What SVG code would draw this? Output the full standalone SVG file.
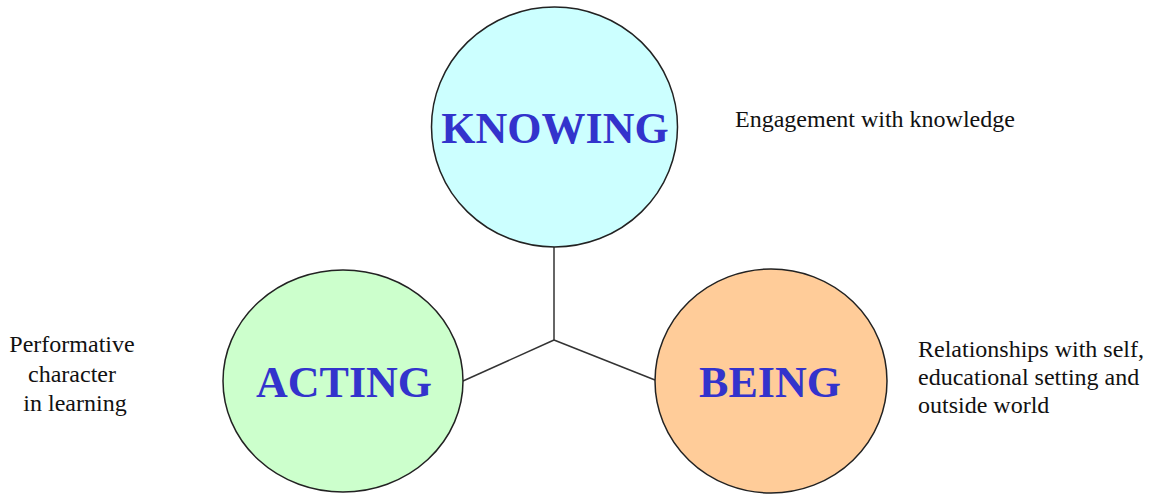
<svg xmlns="http://www.w3.org/2000/svg" width="1155" height="494" viewBox="0 0 1155 494">
<style>
.node{stroke:#222;stroke-width:1.5}
.title{font-family:"Liberation Serif",serif;font-weight:bold;font-size:44px;fill:#3333cc;text-anchor:middle}
.desc{font-family:"Liberation Serif",serif;font-size:24px;fill:#111}
.conn{stroke:#333;stroke-width:1.5;fill:none}
</style>
<rect width="1155" height="494" fill="#ffffff"/>
<g id="connectors">
<line class="conn" x1="554" y1="247" x2="554" y2="340"/>
<line class="conn" x1="554" y1="340" x2="463" y2="381"/>
<line class="conn" x1="554" y1="340" x2="655" y2="380"/>
</g>
<g id="knowing">
<ellipse class="node" cx="554.5" cy="127" rx="123" ry="120" fill="#ccffff"/>
<text class="title" x="555" y="143">KNOWING</text>
</g>
<g id="acting">
<ellipse class="node" cx="343" cy="381" rx="120" ry="111" fill="#ccffcc"/>
<text class="title" x="344" y="397">ACTING</text>
</g>
<g id="being">
<ellipse class="node" cx="771" cy="381" rx="116" ry="112" fill="#ffcc99"/>
<text class="title" x="770" y="397">BEING</text>
</g>
<g id="knowing-desc">
<text class="desc" x="735" y="127">Engagement with knowledge</text>
</g>
<g id="acting-desc">
<text class="desc" text-anchor="middle">
<tspan x="75" y="352">Performative</tspan>
<tspan x="75" y="382">character</tspan>
<tspan x="75" y="411">in learning</tspan>
</text>
</g>
<g id="being-desc">
<text class="desc">
<tspan x="918" y="357">Relationships with self,</tspan>
<tspan x="918" y="385">educational setting and</tspan>
<tspan x="918" y="413">outside world</tspan>
</text>
</g>
</svg>
